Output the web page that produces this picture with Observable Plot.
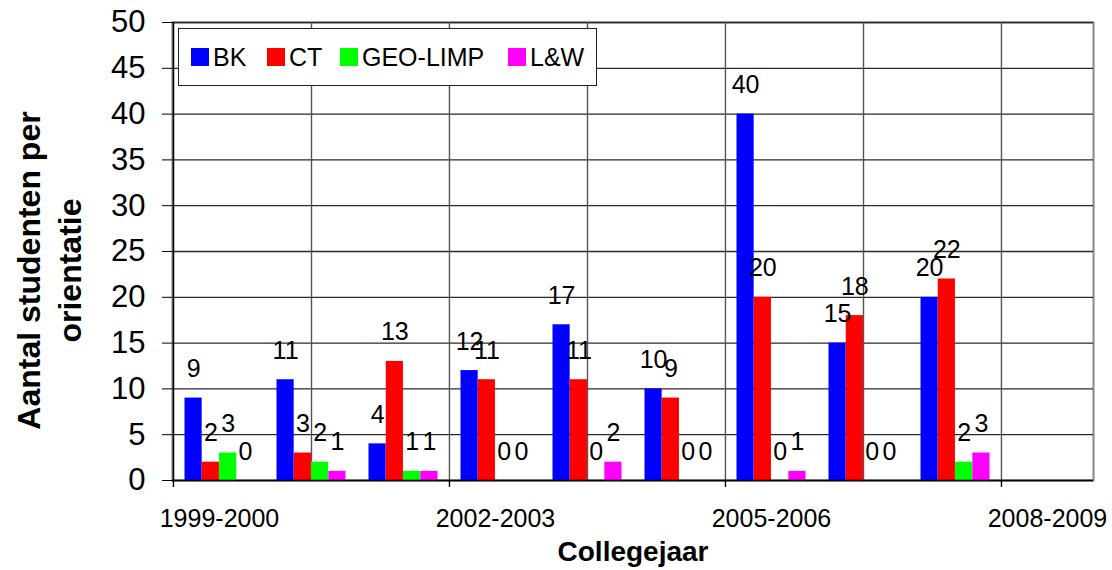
<!DOCTYPE html>
<html>
<head>
<meta charset="utf-8">
<script src="https://cdn.jsdelivr.net/npm/d3@7"></script>
<script src="https://cdn.jsdelivr.net/npm/@observablehq/plot@0.6"></script>
<style>
  body { margin: 0; background: #fff; }
  #wrap { position: relative; width: 1112px; height: 570px; font-family: "Liberation Sans", Arial, sans-serif; }
  #legend { position: absolute; left: 178px; top: 28px; width: 419px; height: 58px; box-sizing: border-box;
            border: 1px solid #222; background: #fff; }
  .item { position: absolute; top: 0; height: 56px; display: flex; align-items: center; font-size: 25px; color: #000; white-space: nowrap; }
  .sw { width: 18px; height: 18px; margin-right: 4px; }
</style>
</head>
<body>
<div id="wrap"></div>
<script>
// ---- data ----
const years = ["1999-2000","2000-2001","2001-2002","2002-2003","2003-2004","2004-2005","2005-2006","2006-2007","2007-2008","2008-2009"];
const series = ["BK","CT","GEO-LIMP","L&W"];
const colors = ["#0000ff","#ff0000","#00ff00","#ff00ff"];
const BK  = [9, 11, 4, 12, 17, 10, 40, 15, 20, null];
const CT  = [2, 3, 13, 11, 11, 9, 20, 18, 22, null];
const GEO = [3, 2, 1, 0, 0, 0, 0, 0, 2, null];
const LW  = [0, 1, 1, 0, 2, 0, 1, 0, 3, null];
const yTicks = [0, 5, 10, 15, 20, 25, 30, 35, 40, 45, 50];
const xTickLabels = ["1999-2000","2002-2003","2005-2006","2008-2009"];
const gridCenterYears = ["2000-2001","2003-2004","2006-2007"];
const gridEdgeYears = ["2002-2003","2005-2006","2008-2009"];
const yTitle = "Aantal studenten per\norientatie";
const xTitle = "Collegejaar";

const values = [BK, CT, GEO, LW];
const rows = [];
years.forEach((yr, i) => series.forEach((s, k) => {
  const v = values[k][i];
  if (v != null) rows.push({year: yr, series: s, value: v, k});
}));

// ---- layout ----
const W = 1112, H = 570, mL = 172, mR = 19, mT = 22, mB = 90;
const bw = (W - mL - mR) / years.length;
const outer = 11.5, barW = (bw - 2 * outer) / 4;
const font = "'Liberation Sans', Arial, sans-serif";

const marks = [
  Plot.frame({stroke: "#888", strokeWidth: 2}),
  Plot.ruleY(yTicks, {y: d => d, stroke: "#2a2a2a", strokeWidth: 1.3}),
  Plot.ruleX(gridCenterYears, {x: d => d, stroke: "#555", strokeWidth: 1.4}),
  Plot.ruleX(gridEdgeYears, {x: d => d, dx: -bw / 2, stroke: "#555", strokeWidth: 1.4}),
];
series.forEach((s, k) => {
  const sub = rows.filter(d => d.k === k);
  marks.push(Plot.barY(sub, {
    x: "year", y: "value", fill: colors[k],
    insetLeft: outer + k * barW, insetRight: bw - outer - (k + 1) * barW
  }));
});
series.forEach((s, k) => {
  const sub = rows.filter(d => d.k === k);
  marks.push(Plot.text(sub, {
    x: "year", y: "value", text: d => String(d.value),
    dx: -bw / 2 + outer + (k + 0.5) * barW, dy: -29,
    fontSize: 25, fill: "#000"
  }));
});
marks.push(
  Plot.ruleY([0], {stroke: "#000", strokeWidth: 1.6}),
  Plot.ruleX([years[0]], {x: d => d, dx: -bw / 2, stroke: "#000", strokeWidth: 1.6}),
  Plot.axisY({ticks: yTicks, tickSize: 10, tickPadding: 17, fontSize: 31, label: null, stroke: "#000"}),
  Plot.axisX({ticks: xTickLabels, tickSize: 0, tickPadding: 29, fontSize: 25, label: null}),
  Plot.axisX({ticks: xTickLabels, tickSize: 7, tickFormat: () => "", dx: -bw / 2, label: null, stroke: "#000", strokeWidth: 1.4}),
  Plot.text([yTitle], {frameAnchor: "left", textAnchor: "middle", rotate: -90, dx: -125, dy: 19, fontSize: 32, fontWeight: "bold", lineHeight: 1.27}),
  Plot.text([xTitle], {frameAnchor: "bottom", dy: 80, fontSize: 28, fontWeight: "bold"})
);

const chart = Plot.plot({
  width: W, height: H,
  marginLeft: mL, marginRight: mR, marginTop: mT, marginBottom: mB,
  style: {fontFamily: font, fontSize: "25px", color: "#000", background: "#fff"},
  x: {type: "band", domain: years, padding: 0, label: null},
  y: {domain: [0, 50], label: null},
  marks
});

const wrap = document.getElementById("wrap");
wrap.appendChild(chart);

// legend (inside plot area, top-left, opaque box)
const legend = document.createElement("div");
legend.id = "legend";
const lefts = [12, 88, 161, 329];
series.forEach((s, k) => {
  const it = document.createElement("div");
  it.className = "item";
  it.style.left = lefts[k] + "px";
  const sw = document.createElement("span");
  sw.className = "sw";
  sw.style.background = colors[k];
  const tx = document.createElement("span");
  tx.textContent = s;
  it.appendChild(sw); it.appendChild(tx);
  legend.appendChild(it);
});
wrap.appendChild(legend);
</script>
</body>
</html>
